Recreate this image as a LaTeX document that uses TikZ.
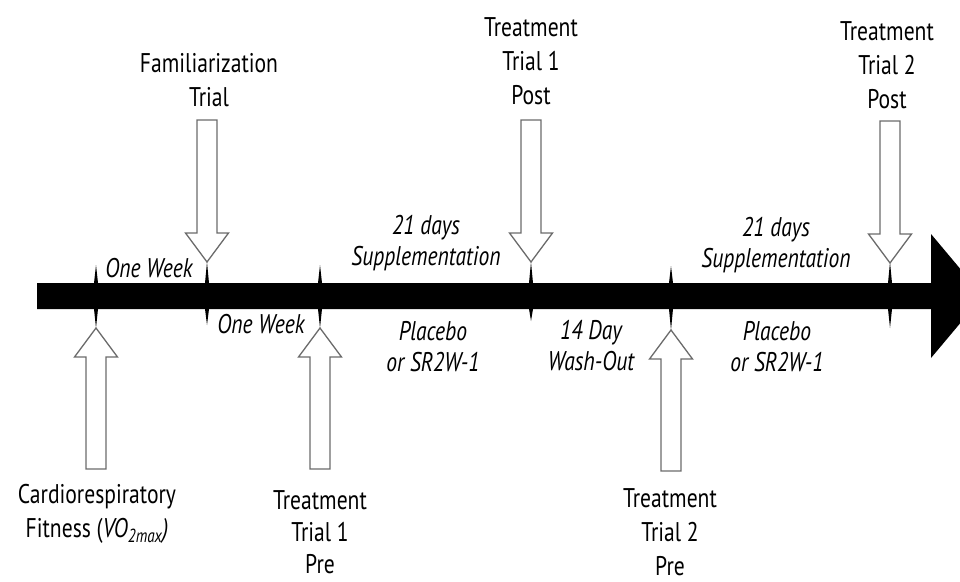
\documentclass[tikz,border=0pt]{standalone}
\usepackage{fontspec}
\setmainfont{PT Sans}[FakeStretch=0.8]
\tikzset{
  lbl/.style={align=center, font=\fontsize{27}{34}\selectfont, inner sep=0pt},
  ilbl/.style={align=center, font=\fontsize{27}{31}\selectfont\itshape, inner sep=0pt},
  hollow/.style={draw=black!58, line width=1.3pt, fill=white, line join=miter},
  spike/.style={fill=black, draw=none},
  downarr/.pic={\path[hollow] (-10,-142) -- (10,-142) -- (10,-29) -- (21.5,-29) -- (0,0) -- (-21.5,-29) -- (-10,-29) -- cycle;},
  uparr/.pic={\path[hollow] (-10,141) -- (10,141) -- (10,29) -- (21.5,29) -- (0,0) -- (-21.5,29) -- (-10,29) -- cycle;}
}
\begin{document}
\begin{tikzpicture}[x=1pt,y=-1pt]
\useasboundingbox (0,0) rectangle (960,581);
\clip (0,0) rectangle (960,581);
% timeline arrow
\fill[black] (37,283) -- (931,283) -- (931,234) -- (983,296) -- (931,358) -- (931,309) -- (37,309) -- cycle;
% tick spikes above
\fill[spike] (94,283) -- (96,265) -- (98,283) -- cycle;
\fill[spike] (205,283) -- (207,262) -- (209,283) -- cycle;
\fill[spike] (318,283) -- (320,265) -- (322,283) -- cycle;
\fill[spike] (529,283) -- (531,262) -- (533,283) -- cycle;
\fill[spike] (669,283) -- (671,266) -- (673,283) -- cycle;
\fill[spike] (888,283) -- (890,262) -- (892,283) -- cycle;
% tick spikes below
\fill[spike] (94,309) -- (96,328) -- (98,309) -- cycle;
\fill[spike] (205,309) -- (207,325) -- (209,309) -- cycle;
\fill[spike] (318,309) -- (320,328) -- (322,309) -- cycle;
\fill[spike] (529,309) -- (531,321) -- (533,309) -- cycle;
\fill[spike] (669,309) -- (671,330) -- (673,309) -- cycle;
\fill[spike] (888,309) -- (890,328) -- (892,309) -- cycle;
% hollow arrows
\coordinate (famtip) at (207,262);
\coordinate (tt1posttip) at (531,262);
\coordinate (tt2posttip) at (890,263);
\coordinate (cardtip) at (96,328);
\coordinate (tt1pretip) at (320,328);
\coordinate (tt2pretip) at (671,330);
\pic at (famtip) {downarr};
\pic at (tt1posttip) {downarr};
\pic at (tt2posttip) {downarr};
\pic at (cardtip) {uparr};
\pic at (tt1pretip) {uparr};
\pic at (tt2pretip) {uparr};
% upright labels
\node[lbl] (fam) at (209,80) {Familiarization\\Trial};
\node[lbl] (tt1post) at (531,61) {Treatment\\Trial 1\\Post};
\node[lbl] (tt2post) at (887,65) {Treatment\\Trial 2\\Post};
\node[lbl] (card) at (97,514) {Cardiorespiratory\\Fitness (\textit{VO\textsubscript{2max})}};
\node[lbl, font=\fontsize{27}{32}\selectfont] (tt1pre) at (320,532) {Treatment\\Trial 1\\Pre};
\node[lbl] (tt2pre) at (670,532) {Treatment\\Trial 2\\Pre};
% italic labels
\node[ilbl] (wk1) at (149,268) {One Week};
\node[ilbl] (wk2) at (261,324) {One Week};
\node[ilbl] (sup1) at (426,243) {21 days\\Supplementation};
\node[ilbl] (sup2) at (776,245) {21 days\\Supplementation};
\node[ilbl] (pl1) at (433,347) {Placebo\\or SR2W-1};
\node[ilbl] (wash) at (591,346) {14 Day\\Wash-Out};
\node[ilbl] (pl2) at (777,347) {Placebo\\or SR2W-1};
\end{tikzpicture}
\end{document}
